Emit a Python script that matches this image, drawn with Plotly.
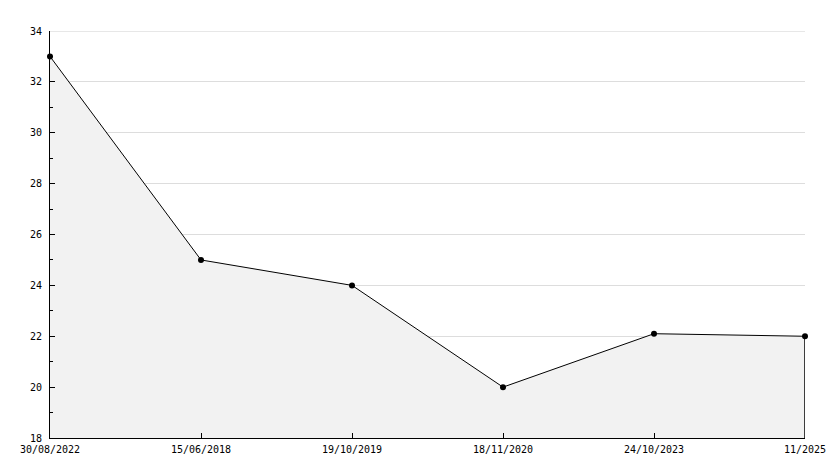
import plotly.graph_objects as go

categories = ["30/08/2022", "15/06/2018", "19/10/2019", "18/11/2020", "24/10/2023", "11/2025"]
values = [33, 25, 24, 20, 22.1, 22]
y_ticks = [18, 20, 22, 24, 26, 28, 30, 32, 34]

x = list(range(len(categories)))

fig = go.Figure()
fig.add_trace(go.Scatter(
    x=x, y=values, mode="lines+markers",
    fill="tozeroy", fillcolor="#f2f2f2",
    line=dict(color="black", width=1),
    marker=dict(color="black", size=6, symbol="circle"),
    hoverinfo="skip", showlegend=False, cliponaxis=False,
))
fig.add_shape(type="line", x0=x[-1], x1=x[-1], y0=y_ticks[0], y1=values[-1],
              xref="x", yref="y", line=dict(color="black", width=1.5))
fig.add_shape(type="line", x0=0, x1=1, y0=y_ticks[-1], y1=y_ticks[-1],
              xref="paper", yref="y", line=dict(color="#d0d0d0", width=1), layer="below")

font = dict(family="DejaVu Sans Mono", size=10, color="black")
fig.update_layout(
    width=826, height=460,
    margin=dict(l=42, r=29, t=23, b=30, autoexpand=False),
    paper_bgcolor="white", plot_bgcolor="white",
    font=font,
    xaxis=dict(
        range=[0, len(categories) - 1], tickvals=x, ticktext=categories,
        showgrid=False, zeroline=False, automargin=False,
        showline=True, linecolor="black", linewidth=1,
        ticks="inside", ticklen=5, tickcolor="black",
        tickfont=font, ticklabelstandoff=2,
    ),
    yaxis=dict(
        range=[y_ticks[0], y_ticks[-1]], tickvals=y_ticks,
        showgrid=True, gridcolor="#dddddd", gridwidth=1, zeroline=False,
        automargin=False,
        showline=True, linecolor="black", linewidth=1,
        ticks="inside", ticklen=5, tickcolor="black",
        minor=dict(ticks="inside", ticklen=3, dtick=1, tickcolor="black", showgrid=False),
        tickfont=font, ticklabelstandoff=5,
    ),
)
fig.write_html("out.html")
